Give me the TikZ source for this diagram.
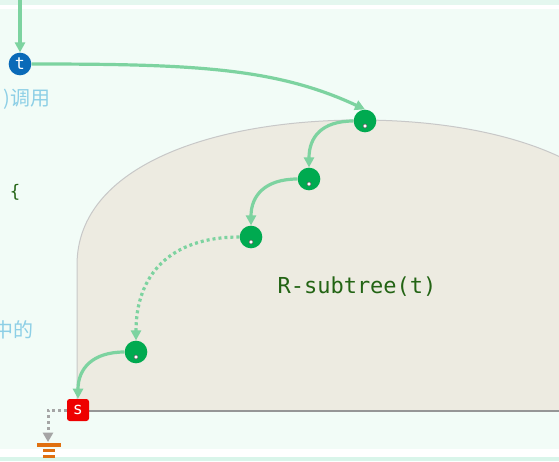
\documentclass[tikz,border=0pt]{standalone}
\usepackage{fontspec}
\setmonofont{DejaVu Sans Mono}
\newfontfamily\cjk{Noto Sans CJK SC}
\usetikzlibrary{arrows.meta,calc}
\definecolor{mint}{RGB}{242,252,247}
\definecolor{topband}{RGB}{228,247,239}
\definecolor{botband}{RGB}{217,245,234}
\definecolor{tanfill}{RGB}{237,235,225}
\definecolor{tanedge}{RGB}{200,200,200}
\definecolor{botedge}{RGB}{150,150,150}
\definecolor{nodegreen}{RGB}{0,170,80}
\definecolor{arrowgreen}{RGB}{125,211,160}
\definecolor{tblue}{RGB}{10,106,184}
\definecolor{sred}{RGB}{238,0,0}
\definecolor{codegreen}{RGB}{35,100,20}
\definecolor{cjkblue}{RGB}{141,207,230}
\definecolor{dotgray}{RGB}{165,165,165}
\definecolor{gndorange}{RGB}{224,112,16}
\tikzset{
  gnode/.style={circle,fill=nodegreen,minimum size=17pt,inner sep=0pt},
  tnode/.style={circle,fill=tblue,minimum size=17pt,inner sep=0pt,text=white,font=\ttfamily\fontsize{12.5}{13}\selectfont},
  snode/.style={rectangle,rounded corners=2pt,fill=sred,minimum size=16.5pt,inner sep=0pt,text=white,font=\ttfamily\fontsize{12.5}{13}\selectfont},
  conn/.style={draw=arrowgreen,line width=2.4pt,-{Triangle[length=7.5pt,width=7.5pt]}},
  dotconn/.style={conn,dash pattern=on 2.25pt off 2.25pt},
  grayconn/.style={draw=dotgray,line width=2.25pt,dash pattern=on 2.25pt off 2.25pt,-{Triangle[length=7pt,width=7.5pt]}},
  cjktext/.style={text=cjkblue,font=\cjk\fontsize{15}{17}\selectfont,inner sep=0pt},
  codetext/.style={text=codegreen,inner sep=0pt},
  pin dot/.style={fill=white,draw=black!65,line width=0.4pt}
}
\begin{document}
\begin{tikzpicture}[x=0.75pt,y=-0.75pt]
\useasboundingbox (0,0) rectangle (559,461);
\clip (0,0) rectangle (559,461);
% background
\fill[mint] (0,0) rectangle (559,461);
\fill[topband] (0,0) rectangle (559,5);
\fill[white] (0,5) rectangle (559,9);
\fill[white] (0,449) rectangle (559,457);
\fill[botband] (0,457) rectangle (559,461);
% subtree shape
\path[fill=tanfill,draw=tanedge,line width=0.75pt]
  (77,411) -- (77,265) .. controls (77,165) and (215,120) .. (360,120)
  .. controls (505,120) and (643,165) .. (643,265) -- (643,411) -- cycle;
\draw[botedge,line width=1.1pt] (77,411) -- (559,411);
% texts
\node[cjktext,anchor=east] (txt1) at (51,99) {)调用};
\node[cjktext,anchor=east] (txt2) at (34,330) {中的};
\node[codetext,font=\ttfamily\fontsize{13}{14}\selectfont] (brace) at (15,192) {\{};
\node[codetext,font=\ttfamily\fontsize{16.5}{18}\selectfont] (label) at (357,287) {R-subtree(t)};
% nodes
\coordinate (top) at (20,0);
\node[tnode] (t) at (20,64) {t};
\node[gnode] (n1) at (365,121) {};
\node[gnode] (n2) at (309,179) {};
\node[gnode] (n3) at (251,237) {};
\node[gnode] (n4) at (136,352) {};
\node[snode] (s) at (78,410) {s};
\coordinate (bend) at (48,410);
\coordinate (gnd) at (48,442);
\foreach \n in {n1,n2,n3,n4}{
  \path[pin dot] ($(\n)+(0,5)$) circle (2);
}
% connectors
\draw[conn] (top) -- (t.north);
\draw[conn] (t.east) .. controls ($(t.east)+(160,0)$) and ($(n1.north)+(-90,-42)$) .. (n1.north);
\draw[conn] (n1.west) .. controls ($(n1.west)+(-32,0)$) and ($(n2.north)+(0,-30)$) .. (n2.north);
\draw[conn] (n2.west) .. controls ($(n2.west)+(-32,0)$) and ($(n3.north)+(0,-30)$) .. (n3.north);
\draw[dotconn] (n3.west) .. controls ($(n3.west)+(-70,0)$) and ($(n4.north)+(0,-65)$) .. (n4.north);
\draw[conn] (n4.west) .. controls ($(n4.west)+(-32,0)$) and ($(s.north)+(0,-30)$) .. (s.north);
\draw[grayconn] (s.west) -- (bend) -- (gnd);
% ground symbol
\fill[gndorange] (37,443) rectangle (61,447);
\fill[gndorange] (43,449) rectangle (55,452);
\fill[gndorange] (43,455) rectangle (55,458);
\end{tikzpicture}
\end{document}
